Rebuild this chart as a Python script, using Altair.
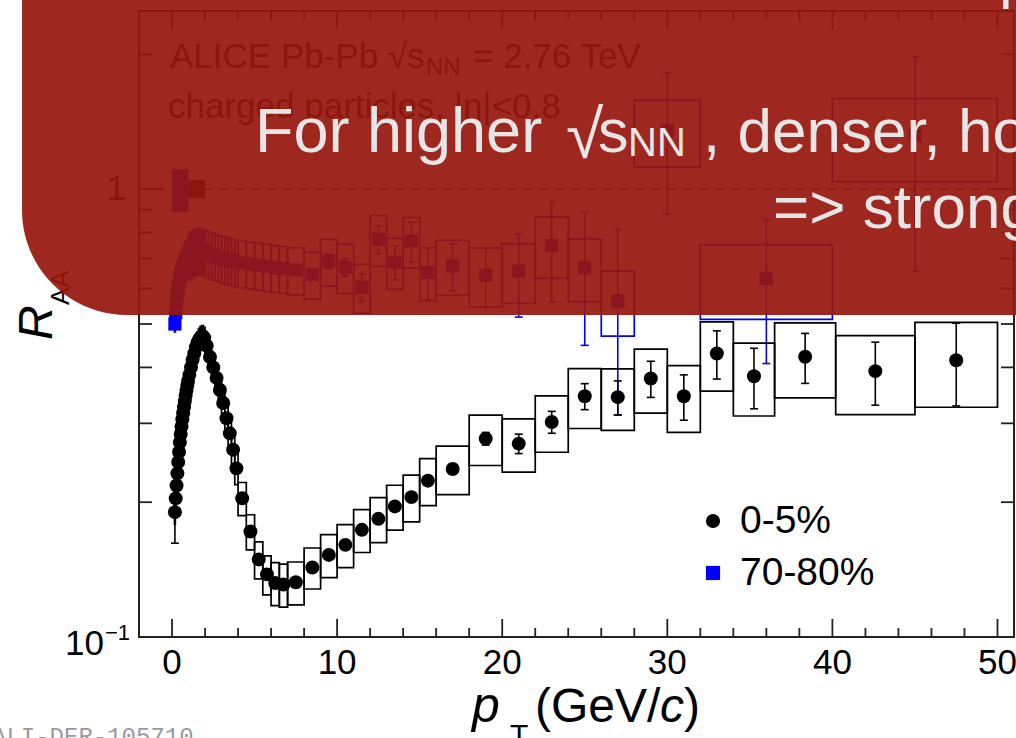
import altair as alt
import pandas as pd

W, H = 875, 626
X_DOM = [-2, 51]
Y_DOM = [0.1, 2.5]
FONT = "Liberation Sans"

# ---------------- data: 0-5% ----------------
edges_05 = [0.15, 0.2, 0.25, 0.3, 0.35, 0.4, 0.45, 0.5, 0.55, 0.6, 0.65, 0.7, 0.75, 0.8, 0.85, 0.9, 0.95,
            1.0, 1.1, 1.2, 1.3, 1.4, 1.5, 1.6, 1.7, 1.8, 1.9,
            2.0, 2.2, 2.4, 2.6, 2.8, 3.0, 3.2, 3.4, 3.6, 3.8,
            4.0, 4.5, 5.0, 5.5, 6.0, 6.5, 7.0,
            8, 9, 10, 11, 12, 13, 14, 15, 16, 18, 20, 22, 24, 26, 28, 30, 32, 34, 36.5, 40.2, 45, 50]
pt_05 = [0.175, 0.225, 0.275, 0.325, 0.375, 0.425, 0.475, 0.525, 0.575, 0.625, 0.675, 0.725, 0.775, 0.825, 0.875, 0.925, 0.975,
         1.05, 1.15, 1.25, 1.35, 1.45, 1.55, 1.65, 1.75, 1.85, 1.95,
         2.1, 2.3, 2.5, 2.7, 2.9, 3.1, 3.3, 3.5, 3.7, 3.9,
         4.25, 4.75, 5.25, 5.75, 6.25, 6.75,
         7.5,
         8.5, 9.5, 10.5, 11.5, 12.5, 13.5, 14.5, 15.5,
         17,
         19, 21, 23, 25, 27, 29, 31, 33,
         35.25, 38.35, 42.6, 47.5]
raa_05 = [0.190, 0.204, 0.218, 0.232, 0.246, 0.259, 0.272, 0.284, 0.295, 0.306, 0.316, 0.326, 0.336, 0.346, 0.355, 0.364, 0.373,
          0.385, 0.400, 0.416, 0.430, 0.444, 0.455, 0.463, 0.468, 0.470, 0.466,
          0.447, 0.422, 0.400, 0.379, 0.356, 0.333, 0.308, 0.285, 0.262, 0.238,
          0.204, 0.172, 0.149, 0.138, 0.132, 0.131,
          0.1325,
          0.143, 0.1525, 0.1606, 0.1735, 0.1836, 0.1957, 0.2053, 0.2234,
          0.2373,
          0.2773, 0.2703, 0.3021, 0.3449, 0.3432, 0.3778, 0.3449, 0.4297,
          0.3823, 0.4224, 0.3923, 0.4151]
stat_05 = [0.028, 0.003, 0.003, 0.003, 0.003, 0.003, 0.003, 0.003, 0.003, 0.003, 0.003, 0.003, 0.003, 0.003, 0.003, 0.003, 0.003,
           0.003, 0.003, 0.003, 0.003, 0.003, 0.003, 0.003, 0.003, 0.003, 0.003,
           0.003, 0.003, 0.003, 0.003, 0.003, 0.003, 0.003, 0.003, 0.003, 0.003,
           0.003, 0.003, 0.003, 0.003, 0.003, 0.003,
           0.003,
           0.003, 0.003, 0.003, 0.004, 0.004, 0.004, 0.005, 0.005,
           0.006,
           0.009, 0.0135, 0.017, 0.023, 0.030, 0.035, 0.040, 0.053,
           0.059, 0.054, 0.063, 0.087]
sys_05 = [0.06, 0.06, 0.06, 0.06, 0.06, 0.06, 0.06, 0.06, 0.06, 0.06, 0.06, 0.06, 0.06, 0.06, 0.06, 0.06, 0.06,
          0.055, 0.055, 0.055, 0.055, 0.055, 0.055, 0.055, 0.055, 0.055, 0.055,
          0.06, 0.062, 0.064, 0.066, 0.068, 0.07, 0.072, 0.075, 0.078, 0.08,
          0.085, 0.09, 0.095, 0.10, 0.11, 0.11,
          0.11,
          0.105, 0.11, 0.11, 0.11, 0.115, 0.115, 0.12, 0.12,
          0.124,
          0.129, 0.136, 0.144, 0.153, 0.157, 0.163, 0.17, 0.176,
          0.185, 0.19, 0.20, 0.215]

# ---------------- data: 70-80% ----------------
edges_7080 = [0.15, 0.2, 0.25, 0.3, 0.35, 0.4, 0.45, 0.5, 0.55, 0.6, 0.65, 0.7, 0.75, 0.8, 0.85, 0.9, 0.95,
              1.0, 1.1, 1.2, 1.3, 1.4, 1.5, 1.6, 1.7, 1.8, 1.9,
              2.0, 2.2, 2.4, 2.6, 2.8, 3.0, 3.2, 3.4, 3.6, 3.8,
              4.0, 4.5, 5.0, 5.5, 6.0, 6.5, 7.0,
              8, 9, 10, 11, 12, 13, 14, 15, 16, 18, 20, 22, 24, 26, 28, 32, 40, 50]
pt_7080 = [0.175, 0.225, 0.275, 0.325, 0.375, 0.425, 0.475, 0.525, 0.575, 0.625, 0.675, 0.725, 0.775, 0.825, 0.875, 0.925, 0.975,
           1.05, 1.15, 1.25, 1.35, 1.45, 1.55, 1.65, 1.75, 1.85, 1.95,
           2.1, 2.3, 2.5, 2.7, 2.9, 3.1, 3.3, 3.5, 3.7, 3.9,
           4.25, 4.75, 5.25, 5.75, 6.25, 6.75,
           7.5,
           8.5, 9.5, 10.5, 11.5, 12.5, 13.5, 14.5, 15.5,
           17,
           19, 21, 23, 25, 27,
           30, 36, 45]
raa_7080 = [0.50, 0.53, 0.56, 0.585, 0.605, 0.62, 0.635, 0.645, 0.655, 0.665, 0.672, 0.68, 0.686, 0.692, 0.697, 0.702, 0.706,
            0.712, 0.718, 0.722, 0.726, 0.728, 0.730, 0.730, 0.729, 0.727, 0.725,
            0.721, 0.716, 0.712, 0.708, 0.703, 0.700, 0.697, 0.694, 0.690, 0.688,
            0.684, 0.680, 0.676, 0.672, 0.668, 0.665,
            0.660,
            0.645, 0.690, 0.669, 0.604, 0.773, 0.687, 0.766, 0.652,
            0.674,
            0.642, 0.656, 0.749, 0.668, 0.563,
            1.35, 0.632, 1.316]
stat_7080 = [0.005, 0.008, 0.008, 0.008, 0.008, 0.008, 0.008, 0.008, 0.008, 0.008, 0.008, 0.008, 0.008, 0.008, 0.008, 0.008, 0.008,
             0.008, 0.008, 0.008, 0.008, 0.008, 0.008, 0.008, 0.008, 0.008, 0.008,
             0.010, 0.010, 0.010, 0.010, 0.010, 0.010, 0.010, 0.010, 0.010, 0.010,
             0.012, 0.012, 0.013, 0.014, 0.015, 0.015,
             0.016,
             0.020, 0.025, 0.030, 0.043, 0.055, 0.060, 0.078, 0.088,
             0.081,
             0.097, 0.138, 0.189, 0.220, 0.250,
             0.47, 0.224, 0.66]
sys_7080 = [0.04, 0.06, 0.08, 0.10, 0.10, 0.10, 0.10, 0.10, 0.10, 0.10, 0.10, 0.10, 0.10, 0.10, 0.10, 0.10, 0.10,
            0.12, 0.12, 0.12, 0.12, 0.12, 0.12, 0.12, 0.12, 0.12, 0.12,
            0.12, 0.12, 0.12, 0.12, 0.12, 0.12, 0.12, 0.12, 0.12, 0.12,
            0.12, 0.12, 0.12, 0.12, 0.12, 0.12,
            0.12,
            0.12, 0.12, 0.125, 0.125, 0.13, 0.13, 0.13, 0.135,
            0.14,
            0.15, 0.152, 0.156, 0.16, 0.166,
            0.17, 0.19, 0.21]

# normalisation boxes at R_AA = 1
norm_x0 = [0, 1]
norm_x1 = [1, 2]
norm_lo = [0.89, 0.954]
norm_hi = [1.11, 1.048]
norm_col = ["#0000ff", "#000000"]

# axes
x_major = [0, 10, 20, 30, 40, 50]
x_minor = [2, 4, 6, 8, 12, 14, 16, 18, 22, 24, 26, 28, 32, 34, 36, 38, 42, 44, 46, 48]
y_major = [1]
y_minor = [0.2, 0.3, 0.4, 0.5, 0.6, 0.7, 0.8, 0.9, 2]
x_labels = ["0", "10", "20", "30", "40", "50"]


def frame(pt, raa, stat, sysr, edges):
    return pd.DataFrame({
        "pt": pt, "raa": raa,
        "elo": [r - s for r, s in zip(raa, stat)],
        "ehi": [r + s for r, s in zip(raa, stat)],
        "slo": [r * (1 - f) for r, f in zip(raa, sysr)],
        "shi": [r * (1 + f) for r, f in zip(raa, sysr)],
        "x0": edges[:-1], "x1": edges[1:],
    })


d05 = frame(pt_05, raa_05, stat_05, sys_05, edges_05)
d78 = frame(pt_7080, raa_7080, stat_7080, sys_7080, edges_7080)


def X(f):
    return alt.X(f, type="quantitative", scale=alt.Scale(domain=X_DOM, nice=False, zero=False), axis=None)


def Y(f):
    return alt.Y(f, type="quantitative", scale=alt.Scale(type="log", domain=Y_DOM, nice=False), axis=None)


def series(d, color, marker, msize):
    boxes = alt.Chart(d).mark_rect(fillOpacity=0, stroke=color, strokeWidth=1.7).encode(
        x=X("x0"), x2=alt.X2("x1"), y=Y("slo"), y2=alt.Y2("shi"))
    bars = alt.Chart(d).mark_rule(color=color, strokeWidth=1.6).encode(
        x=X("pt"), y=Y("elo"), y2=alt.Y2("ehi"))
    cap_lo = alt.Chart(d).mark_rule(color=color, strokeWidth=1.6, xOffset=-4, x2Offset=4).encode(
        x=X("pt"), x2=alt.X2("pt"), y=Y("elo"))
    cap_hi = alt.Chart(d).mark_rule(color=color, strokeWidth=1.6, xOffset=-4, x2Offset=4).encode(
        x=X("pt"), x2=alt.X2("pt"), y=Y("ehi"))
    pts = alt.Chart(d).mark_point(shape=marker, filled=True, size=msize, color=color, opacity=1, strokeWidth=0).encode(
        x=X("pt"), y=Y("raa"))
    return [boxes, bars, cap_lo, cap_hi, pts]


def text(t, x, y, size, color="#000000", align="left", style="normal", angle=0, font=FONT, baseline="alphabetic"):
    return alt.Chart(pd.DataFrame({"t": [t]})).mark_text(
        text=t, font=font, fontSize=size, color=color, align=align, baseline=baseline,
        fontStyle=style, angle=angle).encode(x=alt.value(x), y=alt.value(y))


layers = []

# dashed unity line
layers.append(alt.Chart(pd.DataFrame({"v": [1.0]})).mark_rule(color="#111111", strokeWidth=1.6, strokeDash=[9, 7]).encode(
    y=Y("v"), x=alt.value(0), x2=alt.value(W)))

# normalisation boxes
dn = pd.DataFrame({"x0": norm_x0, "x1": norm_x1, "lo": norm_lo, "hi": norm_hi, "c": norm_col})
layers.append(alt.Chart(dn).mark_rect().encode(x=X("x0"), x2=alt.X2("x1"), y=Y("lo"), y2=alt.Y2("hi"),
                                              color=alt.Color("c", scale=None)))

layers += series(d78, "#0000ff", "square", 175)
layers += series(d05, "#000000", "circle", 195)

# frame
layers.append(alt.Chart(pd.DataFrame({"a": [0]})).mark_rect(fillOpacity=0, stroke="#222222", strokeWidth=2).encode(
    x=alt.value(0), x2=alt.value(W), y=alt.value(0), y2=alt.value(H)))

# ticks inside the frame
dxM = pd.DataFrame({"v": x_major})
dxm = pd.DataFrame({"v": x_minor})
dyM = pd.DataFrame({"v": y_major})
dym = pd.DataFrame({"v": y_minor})
tk = dict(color="#222222", strokeWidth=1.8)
layers.append(alt.Chart(dxM).mark_rule(**tk).encode(x=X("v"), y=alt.value(H), y2=alt.value(H - 18)))
layers.append(alt.Chart(dxm).mark_rule(**tk).encode(x=X("v"), y=alt.value(H), y2=alt.value(H - 9)))
layers.append(alt.Chart(dxM).mark_rule(**tk).encode(x=X("v"), y=alt.value(0), y2=alt.value(18)))
layers.append(alt.Chart(dxm).mark_rule(**tk).encode(x=X("v"), y=alt.value(0), y2=alt.value(9)))
layers.append(alt.Chart(dyM).mark_rule(**tk).encode(y=Y("v"), x=alt.value(0), x2=alt.value(26)))
layers.append(alt.Chart(dym).mark_rule(**tk).encode(y=Y("v"), x=alt.value(0), x2=alt.value(13)))
layers.append(alt.Chart(dyM).mark_rule(**tk).encode(y=Y("v"), x=alt.value(W), x2=alt.value(W - 26)))
layers.append(alt.Chart(dym).mark_rule(**tk).encode(y=Y("v"), x=alt.value(W), x2=alt.value(W - 13)))

# tick labels
layers.append(alt.Chart(pd.DataFrame({"v": x_major, "t": x_labels})).mark_text(
    font=FONT, fontSize=35, align="center", baseline="alphabetic", color="#000000").encode(
    x=X("v"), y=alt.value(H + 37), text="t:N"))
layers.append(alt.Chart(pd.DataFrame({"v": [1.0], "t": ["1"]})).mark_text(
    font=FONT, fontSize=35, align="right", baseline="middle", color="#000000", dx=-13).encode(
    x=alt.value(0), y=Y("v"), text="t:N"))
layers.append(alt.Chart(pd.DataFrame({"v": [0.1], "t": ["10"]})).mark_text(
    font=FONT, fontSize=35, align="right", baseline="alphabetic", color="#000000", dx=-35, dy=18).encode(
    x=alt.value(0), y=Y("v"), text="t:N"))
layers.append(alt.Chart(pd.DataFrame({"v": [0.1], "t": ["\u22121"]})).mark_text(
    font=FONT, fontSize=22, align="left", baseline="alphabetic", color="#000000", dx=-34, dy=3).encode(
    x=alt.value(0), y=Y("v"), text="t:N"))

# axis titles
layers.append(text("p", 333, 711, 50, style="italic"))
layers.append(text("T", 371, 734, 30))
layers.append(text("(GeV/", 396, 711, 48))
layers.append(text("c", 521, 711, 48, style="italic"))
layers.append(text(")", 545, 711, 48))
layers.append(text("R", -87, 329, 48, style="italic", angle=270))
layers.append(text("AA", -70, 294, 26, angle=270))

# legend
layers.append(alt.Chart(pd.DataFrame({"a": [0]})).mark_point(shape="circle", filled=True, size=200, color="#000000", opacity=1).encode(
    x=alt.value(574), y=alt.value(510)))
layers.append(alt.Chart(pd.DataFrame({"a": [0]})).mark_point(shape="square", filled=True, size=200, color="#0000ff", opacity=1).encode(
    x=alt.value(574), y=alt.value(562)))
layers.append(text("0-5%", 601, 522, 39))
layers.append(text("70-80%", 601, 574, 39))

# ALICE label
layers.append(text("ALICE Pb-Pb \u221as", 31, 57, 35))
layers.append(text("NN", 287, 64, 24))
layers.append(text("= 2.76 TeV", 334, 57, 35))
layers.append(text("charged particles, |\u03b7|<0.8", 29, 107, 35))

# figure id
layers.append(text("ALI-DER-105710", -147, 733, 24, color="#9a9a9a", font="Liberation Mono"))

# slide overlay
layers.append(alt.Chart(pd.DataFrame({"a": [0]})).mark_rect(
    fill="#97180e", opacity=0.93, cornerRadiusBottomLeft=105).encode(
    x=alt.value(-117), x2=alt.value(W + 80), y=alt.value(-80), y2=alt.value(304)))
OV = "#e6e6e6"
layers.append(text("p", 860, -15, 61, color=OV))
layers.append(text("For higher", 116, 141, 63, color=OV))
layers.append(text("\u221a", 427, 147, 68, color=OV))
layers.append(text("s", 459, 141, 61, color=OV))
layers.append(text("NN", 489, 145, 40, color=OV))
layers.append(text(", denser, hotter medium", 564, 141, 62, color=OV))
layers.append(text("=> stronger suppression", 634, 217, 62, color=OV))

chart = alt.layer(*layers).properties(
    width=W, height=H,
    autosize=alt.AutoSizeParams(type="none"),
    padding={"left": 139, "top": 11, "right": 2, "bottom": 101},
).configure_view(stroke="transparent")

chart.save("out.html", embed_options={"renderer": "svg", "actions": False})
